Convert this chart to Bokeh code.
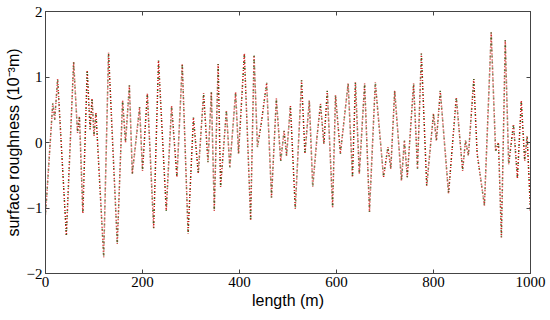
from bokeh.plotting import figure
from bokeh.models import LinearAxis, FixedTicker, Range1d
from bokeh.embed import file_html
from bokeh.resources import INLINE

# extrema of the roughness profile (length m, roughness 1e-3 m)
length_m = [0, 15, 19, 25, 43, 58, 66, 70, 77, 86, 92, 96, 100, 104, 120, 130, 148, 159, 165,
            173, 179, 194, 200, 210, 223, 233, 249, 260, 271, 282, 294, 305, 315, 326, 335,
            342, 348, 356, 361, 373, 380, 392, 398, 410, 423, 430, 437, 445, 456, 466, 476,
            485, 492, 497, 505, 515, 528, 535, 544, 551, 560, 567, 574, 581, 592, 598, 608,
            624, 633, 639, 647, 658, 668, 680, 697, 706, 712, 720, 734, 740, 746, 759, 767,
            775, 786, 800, 806, 814, 831, 847, 860, 866, 872, 883, 890, 905, 919, 928, 934,
            940, 948, 955, 965, 973, 981, 988, 993, 1000]
roughness = [-1.1, 0.6, 0.35, 0.97, -1.42, 1.23, 0.15, 0.4, -1.08, 1.1, 0.2, 0.67, 0.1, 0.46,
             -1.75, 1.37, -1.55, 0.64, 0.0, 0.87, -0.48, 0.54, -0.43, 0.75, -1.31, 1.25, -1.04,
             0.56, -0.53, 1.2, -1.39, 0.38, -0.47, 0.75, -0.3, 0.77, -1.04, 1.2, -0.68, 0.49,
             -0.38, 0.77, -0.17, 1.36, -1.19, 1.33, -0.07, 0.3, 0.91, -0.84, 0.67, -0.28, 0.18,
             -0.2, 0.56, -1.01, 0.95, -0.17, 0.64, -0.68, 0.1, 0.59, -0.02, 0.79, -0.99, 0.72,
             -0.17, 0.9, -0.53, 0.92, -0.48, 0.9, -1.06, 0.92, -0.53, -0.07, -0.4, 0.79, -0.58,
             0.03, -0.53, 0.9, -0.4, 1.36, -0.66, 0.44, 0.03, 0.79, -0.78, 0.69, -0.43, 0.03,
             -0.2, 0.97, -0.17, -0.96, 1.68, -0.13, 0.0, -1.45, 1.56, -0.33, 0.28, -0.55, 0.64,
             -0.28, 0.1, -1.05]

x_ticks = [0, 200, 400, 600, 800, 1000]
y_ticks = [-2, -1, 0, 1, 2]

p = figure(width=548, height=318, output_backend="svg", toolbar_location=None,
           x_range=Range1d(0, 1000), y_range=Range1d(-2, 2),
           min_border_left=45, min_border_right=18, min_border_top=11, min_border_bottom=45)
p.grid.visible = False
p.background_fill_color = "white"
p.border_fill_color = "white"
p.outline_line_color = "#444444"
p.outline_line_width = 1

p.line(length_m, roughness, line_color="#cc1c18", line_width=1.5, line_dash="1 2")
p.line(length_m, roughness, line_color="#2f6a22", line_width=1.5, line_dash="1 5",
       line_dash_offset=4)

def style(ax, ticks, labels=True):
    ax.ticker = FixedTicker(ticks=ticks)
    ax.major_tick_in = 4
    ax.major_tick_out = 0
    ax.minor_tick_line_color = None
    ax.axis_line_color = "#444444"
    ax.major_tick_line_color = "#444444"
    if labels:
        ax.major_label_text_font = "Liberation Serif"
        ax.major_label_text_font_size = "15px"
        ax.major_label_text_color = "black"
        ax.axis_label_text_font = "Liberation Sans"
        ax.axis_label_text_font_size = "16px"
        ax.axis_label_text_font_style = "normal"
        ax.axis_label_text_color = "black"
    else:
        ax.major_label_overrides = {t: "" for t in ticks}
        ax.major_label_standoff = 0

style(p.xaxis[0], x_ticks)
style(p.yaxis[0], y_ticks)
p.xaxis[0].axis_label = "length (m)"
p.xaxis[0].axis_label_standoff = 2
p.xaxis[0].major_label_standoff = 3
p.yaxis[0].axis_label = "surface roughness (10\u207b\u00b3m)"
p.yaxis[0].axis_label_standoff = 2
p.yaxis[0].major_label_standoff = 3

top = LinearAxis()
style(top, x_ticks, labels=False)
p.add_layout(top, "above")
right = LinearAxis()
style(right, y_ticks, labels=False)
p.add_layout(right, "right")

open("out.html", "w").write(file_html(p, INLINE))
